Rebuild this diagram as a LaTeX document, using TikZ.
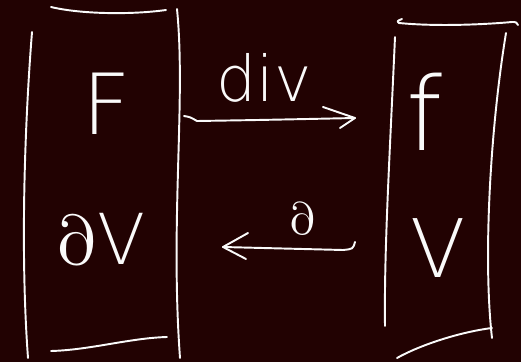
\documentclass[tikz,border=0pt]{standalone}
\usepackage{fontspec}
\newfontfamily\penfont{DejaVu Sans}[UprightFont=* ExtraLight]
\newfontfamily\symfont{Latin Modern Math}
\definecolor{board}{RGB}{34,2,2}
\definecolor{chalk}{RGB}{250,250,250}
\begin{document}
\begin{tikzpicture}[x=0.02cm,y=-0.02cm,
  pen/.style={draw=chalk,line width=1.1pt,line cap=round,line join=round},
  lbl/.style={text=chalk,inner sep=0pt,font=\penfont}]
\fill[board] (0,0) rectangle (521,362);
\useasboundingbox (0,0) rectangle (521,362);

% left column: F over boundary of V
\draw[pen] (32,32) .. controls (25,120) and (20,250) .. (28,358);
\draw[pen] (177,9) .. controls (186,100) and (170,220) .. (180,358);
\draw[pen] (51,7) .. controls (80,14) and (130,15) .. (166,10);
\draw[pen] (51,351) .. controls (90,350) and (130,338) .. (167,337);
\node[lbl,font=\penfont\fontsize{48}{52}\selectfont] (F) at (107,104) {F};
\node[lbl,font=\penfont\fontsize{40}{44}\selectfont] (dV) at (101,240) {{\symfont ∂}V};

% right column: f over V
\draw[pen] (395,37) .. controls (390,150) and (384,250) .. (385,326);
\draw[pen] (506,33) .. controls (490,130) and (483,260) .. (492,338);
\draw[pen] (402,19) .. controls (397,21) .. (399,23)
  .. controls (440,27) and (490,24) .. (512,22) .. controls (516,22) .. (518,25);
\draw[pen] (397,358) .. controls (420,345) and (460,332) .. (492,328);
\node[lbl,font=\penfont\fontsize{58}{62}\selectfont] (f) at (424,112) {f};
\node[lbl,font=\penfont\fontsize{46}{50}\selectfont] (V) at (438,248) {V};

% divergence arrow
\coordinate (a1) at (184,116);
\coordinate (b1) at (355,118);
\draw[pen] (a1) .. controls (190,117) .. (197,121) .. controls (260,120) .. (b1);
\draw[pen] ([shift={(-32,-11)}]b1) -- (b1) -- ([shift={(-15,10)}]b1);
\node[lbl,font=\penfont\fontsize{36}{40}\selectfont] (div) at (264,78) {div};

% boundary arrow
\coordinate (a2) at (355,242);
\coordinate (b2) at (223,247);
\draw[pen] (a2) .. controls (353,249) .. (343,250) -- (b2);
\draw[pen] ([shift={(25,-14)}]b2) -- (b2) -- ([shift={(23,12)}]b2);
\node[lbl,font=\symfont\fontsize{26}{30}\selectfont] (d) at (303,219) {∂};
\end{tikzpicture}
\end{document}
